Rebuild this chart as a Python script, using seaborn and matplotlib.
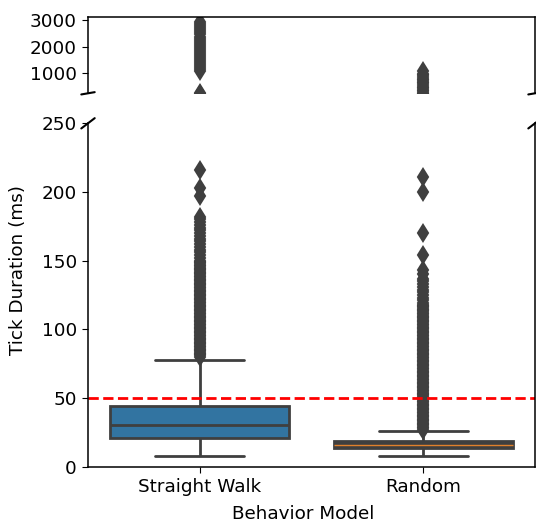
import numpy as np
import pandas as pd
import matplotlib
matplotlib.use("Agg")
import matplotlib.pyplot as plt
import seaborn as sns

MODELS = ["Straight Walk", "Random"]
BOX_COLORS = ["#3274a1", "#3f3f3f"]
MEDIAN_COLORS = ["#3f3f3f", "#e1812c"]

# whisker-low, Q1, median, Q3, whisker-high (ms),
# repeated by BODY_COUNTS so the box statistics come out the same
SW_BODY = [8, 21, 30, 44, 78]
RND_BODY = [8, 13.5, 16, 18.5, 26]
BODY_COUNTS = [1, 400, 400, 400, 1]

# outliers (ms)
SW_OUTLIERS = [80, 81, 82, 83, 84, 85, 86, 87, 88, 89, 90, 91, 92, 93, 94,
               95, 96, 97, 98, 99, 100, 101, 102, 103, 104, 105, 106, 107,
               108, 109, 110, 111, 112, 113, 114, 115, 116, 117, 118, 119,
               120, 121, 122, 123, 124, 125, 126, 127, 128, 129, 130, 131,
               132, 133, 134, 135, 136, 137, 138, 139, 140, 141, 142, 143,
               144, 145, 146, 147, 148, 149, 150, 152, 154, 156, 158, 160,
               162, 164, 166, 168, 170, 172, 174, 176, 178, 180, 182,
               197, 203, 216,
               262, 1080, 1150, 1220, 1300, 1380, 1450, 1520, 1600, 1680,
               1750, 1830, 1900, 1980, 2060, 2140, 2220, 2300, 2380, 2460,
               2540, 2620, 2700, 2780, 2850, 2930]
RND_OUTLIERS = [27, 28, 29, 30, 31, 32, 33, 34, 35, 36, 37, 38, 39, 40, 41,
                42, 43, 44, 45, 46, 47, 48, 49, 50, 51, 52, 53, 54, 55, 56,
                57, 58, 59, 60, 61, 62, 63, 64, 65, 66, 67, 68, 69, 70, 71,
                72, 73, 74, 75, 76, 77, 78, 79, 80, 81, 82, 83, 84, 85, 86,
                87, 88, 89, 90, 91, 92, 93, 94, 95, 96, 97, 98, 99, 100, 101,
                102, 103, 104, 105, 106, 107, 108, 109, 110, 111, 112, 113,
                114, 115, 116, 117, 118, 119, 121, 123, 125, 127, 129, 131,
                133, 135, 137, 140, 143, 154, 170, 200, 211,
                265, 320, 380, 440, 500, 560, 620, 680, 740, 800, 860, 920,
                980, 1100]

THRESHOLD = 50

sw = list(np.repeat(SW_BODY, BODY_COUNTS)) + SW_OUTLIERS
rnd = list(np.repeat(RND_BODY, BODY_COUNTS)) + RND_OUTLIERS
df = pd.DataFrame({
    "model": [MODELS[0]] * len(sw) + [MODELS[1]] * len(rnd),
    "duration": sw + rnd,
})

sns.set_style("ticks")
plt.rcParams["font.family"] = ["DejaVu Sans"]
plt.rcParams["font.size"] = 13.2
plt.rcParams["axes.linewidth"] = 1.1
plt.rcParams["xtick.major.size"] = 4.5
plt.rcParams["ytick.major.size"] = 4.5
plt.rcParams["xtick.color"] = "black"
plt.rcParams["ytick.color"] = "black"
plt.rcParams["axes.edgecolor"] = "black"
plt.rcParams["axes.labelcolor"] = "black"
plt.rcParams["text.color"] = "black"

W, H = 536, 527
fig = plt.figure(figsize=(W / 100, H / 100), dpi=100)
left, right = 88, 535
ax_top = fig.add_axes([left / W, 1 - 93.3 / H, (right - left) / W, (93.3 - 16.7) / H])
ax_bot = fig.add_axes([left / W, 1 - 466.7 / H, (right - left) / W, (466.7 - 123.3) / H])

for ax in (ax_top, ax_bot):
    for i, m in enumerate(MODELS):
        sns.boxplot(data=df[df["model"] == m], x="model", y="duration",
                    order=MODELS, color=BOX_COLORS[i], saturation=1,
                    width=0.8, linewidth=2, linecolor="#3f3f3f",
                    fliersize=8.5,
                    flierprops=dict(marker="d", markerfacecolor="#3f3f3f",
                                    markeredgecolor="#3f3f3f",
                                    markeredgewidth=1.5),
                    medianprops=dict(color=MEDIAN_COLORS[i],
                                     linewidth=2 if i == 0 else 1.0),
                    ax=ax)
    ax.set_xlim(-0.5, 1.5)

ax_bot.axhline(THRESHOLD, color="red", linestyle="--", linewidth=2)

ax_top.set_ylim(250, 3125)
ax_top.set_yticks([1000, 2000, 3000])
ax_top.spines["bottom"].set_visible(False)
ax_top.tick_params(axis="x", bottom=False, labelbottom=False)
ax_top.set_xlabel("")
ax_top.set_ylabel("")

ax_bot.set_ylim(0, 250)
ax_bot.set_yticks([0, 50, 100, 150, 200, 250])
ax_bot.spines["top"].set_visible(False)
ax_bot.set_xlabel("Behavior Model")
ax_bot.set_ylabel("Tick Duration (ms)")
ax_bot.xaxis.set_label_coords(0.481, -0.111)
ax_bot.yaxis.set_label_coords(-0.136, 0.572)

# diagonal break marks
d = 0.015
kw = dict(transform=ax_top.transAxes, color="k", clip_on=False, linewidth=1.5)
ax_top.plot((-d, d), (-d, d), **kw)
ax_top.plot((1 - d, 1 + d), (-d, d), **kw)
kw.update(transform=ax_bot.transAxes)
ax_bot.plot((-d, d), (1 - d, 1 + d), **kw)
ax_bot.plot((1 - d, 1 + d), (1 - d, 1 + d), **kw)

fig.savefig("out.png", dpi=100)
